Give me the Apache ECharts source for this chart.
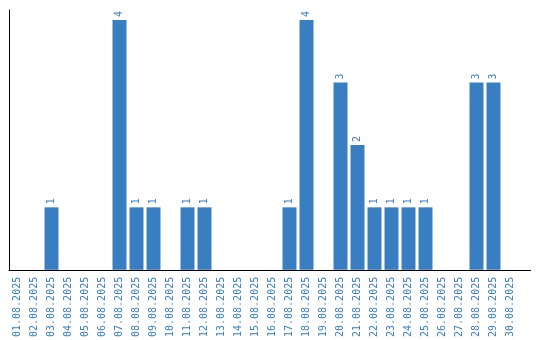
<!DOCTYPE html>
<html>
<head>
<meta charset="utf-8">
<script src="https://cdn.jsdelivr.net/npm/echarts@6/dist/echarts.min.js"></script>
<style>html,body{margin:0;padding:0;background:#fff;}#c{width:540px;height:340px;}</style>
</head>
<body>
<div id="c"></div>
<script>
var categories = ['01.08.2025','02.08.2025','03.08.2025','04.08.2025','05.08.2025','06.08.2025','07.08.2025','08.08.2025','09.08.2025','10.08.2025','11.08.2025','12.08.2025','13.08.2025','14.08.2025','15.08.2025','16.08.2025','17.08.2025','18.08.2025','19.08.2025','20.08.2025','21.08.2025','22.08.2025','23.08.2025','24.08.2025','25.08.2025','26.08.2025','27.08.2025','28.08.2025','29.08.2025','30.08.2025'];
var values = [0,0,1,0,0,0,4,1,1,0,1,1,0,0,0,0,1,4,0,3,2,1,1,1,1,0,0,3,3,0];

var chart = echarts.init(document.getElementById('c'), null, {renderer: 'canvas'});
var blue = '#3a7ec2';
chart.setOption({
  animation: false,
  grid: {left: 9, top: 10, width: 510, height: 260},
  xAxis: {
    type: 'category',
    data: categories,
    axisLine: {show: true, lineStyle: {color: '#000', width: 1}},
    axisTick: {show: false},
    axisLabel: {rotate: 90, color: blue, fontFamily: 'DejaVu Sans Mono', fontSize: 10, margin: 7, interval: 0}
  },
  yAxis: {
    type: 'value',
    min: 0, max: 4.16,
    axisLine: {show: true, lineStyle: {color: '#000', width: 1}},
    axisTick: {show: false},
    axisLabel: {show: false},
    splitLine: {show: false}
  },
  graphic: [{
    type: 'line',
    shape: {x1: 519, y1: 270.5, x2: 531, y2: 270.5},
    style: {stroke: '#000', lineWidth: 1},
    z: 10
  }],
  series: [{
    type: 'bar',
    data: values.map(function(v){ return v === 0 ? null : v; }),
    barWidth: 14,
    itemStyle: {color: blue},
    label: {
      show: true,
      position: 'top',
      rotate: 90,
      align: 'left',
      verticalAlign: 'middle',
      distance: 3,
      color: blue,
      fontFamily: 'DejaVu Sans Mono',
      fontSize: 10
    }
  }]
});
</script>
</body>
</html>
